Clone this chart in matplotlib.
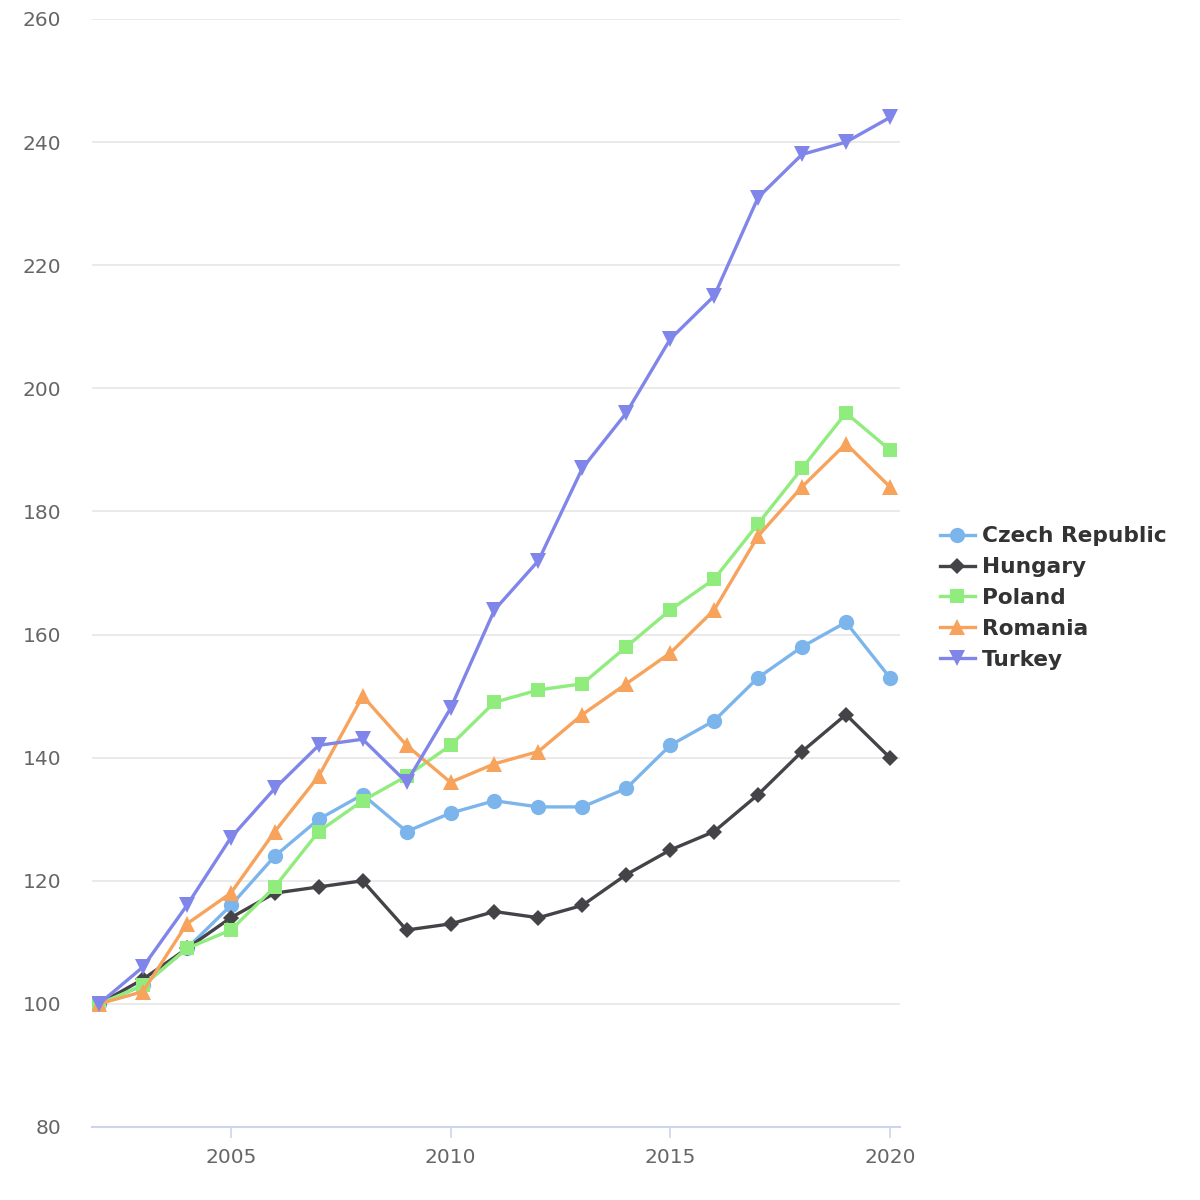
import matplotlib
matplotlib.use("Agg")
import matplotlib.pyplot as plt
from matplotlib.ticker import FixedLocator

years = list(range(2002, 2021))
czech = [100, 103, 109, 116, 124, 130, 134, 128, 131, 133, 132, 132, 135, 142, 146, 153, 158, 162, 153]
hungary = [100, 104, 109, 114, 118, 119, 120, 112, 113, 115, 114, 116, 121, 125, 128, 134, 141, 147, 140]
poland = [100, 103, 109, 112, 119, 128, 133, 137, 142, 149, 151, 152, 158, 164, 169, 178, 187, 196, 190]
romania = [100, 102, 113, 118, 128, 137, 150, 142, 136, 139, 141, 147, 152, 157, 164, 176, 184, 191, 184]
turkey = [100, 106, 116, 127, 135, 142, 143, 136, 148, 164, 172, 187, 196, 208, 215, 231, 238, 240, 244]

series = [
    ("Czech Republic", czech, "#7cb5ec", "o", 11),
    ("Hungary", hungary, "#434348", "D", 8),
    ("Poland", poland, "#90ed7d", "s", 10),
    ("Romania", romania, "#f7a35c", "^", 11),
    ("Turkey", turkey, "#8085e9", "v", 11),
]

yticks = [80, 100, 120, 140, 160, 180, 200, 220, 240, 260]
xticks = [2005, 2010, 2015, 2020]

fig = plt.figure(figsize=(12, 12), dpi=100)
ax = fig.add_axes([92 / 1200, 73 / 1200, 808 / 1200, 1108 / 1200])

for name, vals, color, marker, ms in series:
    ax.plot(years, vals, color=color, lw=2.4, marker=marker, ms=ms,
            markeredgewidth=0, label=name, zorder=3)

ax.set_xlim(2001.84, 2020.23)
ax.set_ylim(80, 260)
ax.yaxis.set_major_locator(FixedLocator(yticks))
ax.xaxis.set_major_locator(FixedLocator(xticks))
ax.grid(axis="y", color="#e6e6e6", lw=1.2, zorder=0)
for s in ["left", "right", "top"]:
    ax.spines[s].set_visible(False)
ax.spines["bottom"].set_color("#ccd6eb")
ax.spines["bottom"].set_linewidth(1.5)
ax.tick_params(axis="y", length=0, pad=22, labelsize=14.5, labelcolor="#666666")
ax.tick_params(axis="x", length=8, width=1.2, color="#ccd6eb", pad=7,
               labelsize=14.5, labelcolor="#666666")

leg = fig.legend(loc="center left", bbox_to_anchor=(940 / 1200, 1 - 598 / 1200),
                 frameon=False, prop={"weight": "bold", "size": 15.6},
                 handlelength=1.6, handletextpad=0.35, labelspacing=0.5,
                 borderaxespad=0, borderpad=0)
for t in leg.get_texts():
    t.set_color("#333333")

fig.savefig("out.png", dpi=100)
